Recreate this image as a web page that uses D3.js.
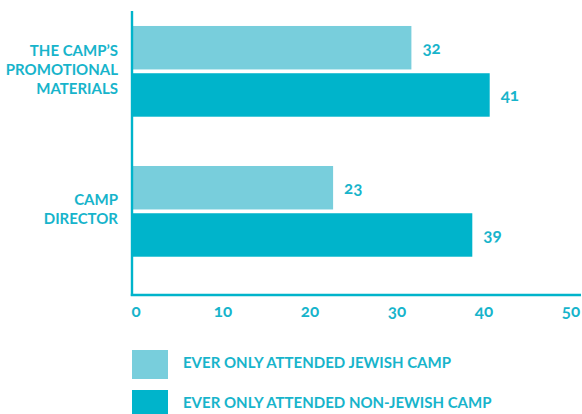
<!DOCTYPE html>
<html><head><meta charset="utf-8">
<script src="https://cdn.jsdelivr.net/npm/d3@7"></script>
<style>
body{margin:0;background:#fff;}
text{font-family:Lato,"Open Sans",sans-serif;font-weight:700;fill:#17b4cb;font-feature-settings:"onum";}
</style></head><body>
<svg id="chart" width="582" height="414"></svg>
<script>
const categories = ["THE CAMP’S|PROMOTIONAL|MATERIALS", "CAMP|DIRECTOR"];
const seriesNames = ["EVER ONLY ATTENDED JEWISH CAMP", "EVER ONLY ATTENDED NON-JEWISH CAMP"];
const jewishValues = [32, 23];
const nonJewishValues = [41, 39];
const tickValues = [0, 10, 20, 30, 40, 50];
const colors = ["#78cedc", "#00b4cb"];

const svg = d3.select("#chart");
const x = d3.scaleLinear().domain([0, 50]).range([133, 568]);
const y = d3.scaleBand().domain(categories).range([11, 271.7]).paddingInner(0.352).paddingOuter(0.107);
const ys = d3.scaleBand().domain(seriesNames).range([0, y.bandwidth()]).paddingInner(0.08);
const color = d3.scaleOrdinal().domain(seriesNames).range(colors);

const rows = categories.map((c, i) => ({cat: c, vals: [
  {s: seriesNames[0], v: jewishValues[i]},
  {s: seriesNames[1], v: nonJewishValues[i]}
]}));

const g = svg.selectAll("g.cat").data(rows).join("g").attr("class", "cat")
  .attr("transform", d => `translate(0,${y(d.cat)})`);
g.selectAll("rect").data(d => d.vals).join("rect")
  .attr("x", x(0)).attr("y", d => ys(d.s))
  .attr("width", d => x(d.v) - x(0)).attr("height", ys.bandwidth())
  .attr("fill", d => color(d.s));
g.selectAll("text.val").data(d => d.vals).join("text").attr("class", "val")
  .attr("x", d => x(d.v) + 11).attr("y", d => ys(d.s) + ys.bandwidth() / 2 + 2)
  .attr("dominant-baseline", "middle").attr("font-size", 17).text(d => d.v);

// category labels
g.each(function(d) {
  const lines = d.cat.split("|");
  const lh = 19;
  const cy = y.bandwidth() / 2 - 2;
  const t = d3.select(this).append("text").attr("text-anchor", "end").attr("font-size", 15);
  lines.forEach((l, i) => {
    t.append("tspan").attr("x", 118)
      .attr("y", cy + (i - (lines.length - 1) / 2) * lh + 5.5).text(l);
  });
});

// axes
const axisColor = "#00b4cb";
svg.append("line").attr("x1", x(0) - 1).attr("x2", x(0) - 1).attr("y1", 11).attr("y2", 296)
  .attr("stroke", axisColor).attr("stroke-width", 2.4);
svg.append("line").attr("x1", x(0) - 2.2).attr("x2", 581).attr("y1", 295).attr("y2", 295)
  .attr("stroke", axisColor).attr("stroke-width", 2.4);
svg.selectAll("text.tick").data(tickValues).join("text").attr("class", "tick")
  .attr("x", d => x(d) + 3).attr("y", 317).attr("text-anchor", "middle")
  .attr("font-size", 17).text(d => d);

// legend
const lg = svg.selectAll("g.leg").data(seriesNames).join("g").attr("class", "leg")
  .attr("transform", (d, i) => `translate(132,${350 + i * 40})`);
lg.append("rect").attr("width", 36).attr("height", 29).attr("fill", d => color(d));
lg.append("text").attr("x", 51).attr("y", 14.5).attr("dominant-baseline", "middle")
  .attr("font-size", 15).text(d => d);
</script></body></html>
